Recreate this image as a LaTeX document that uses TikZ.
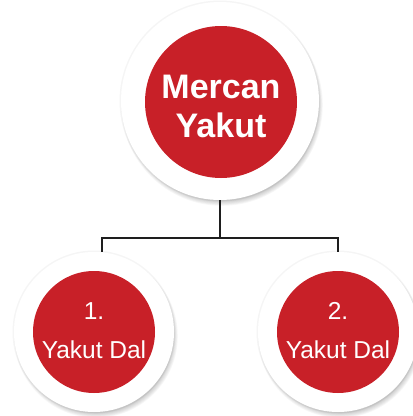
\documentclass[tikz,border=0pt]{standalone}
\usepackage{fontspec}
\setmainfont{Liberation Sans}
\usepackage{xcolor}
\definecolor{rubyred}{RGB}{200,32,40}
\definecolor{branchgray}{RGB}{30,30,30}

\tikzset{
  ring/.style={circle, fill=white, inner sep=0pt},
  bead/.style={circle, fill=rubyred, inner sep=0pt},
  beadtext/.style={text=white, align=center, inner sep=0pt},
  branch/.style={draw=branchgray, line width=2pt},
}

\begin{document}
\begin{tikzpicture}[x=1pt,y=-1pt]
\useasboundingbox (0,0) rectangle (413,416);
% soft shadows under the white rings
\foreach \x/\y/\r in {220/101/99, 94/332/80, 338/332/80}{
  \fill[black,opacity=0.04] (\x,\y) circle [radius={\r pt+1.5pt}];
  \foreach \s in {0,1,...,6}
    \fill[black,opacity=0.03] (\x+2,\y+4) circle [radius={\r pt-3pt+\s*0.8pt}];
}

% main circle
\node[ring, minimum size=198pt] (top) at (220,101) {};
\node[bead, minimum size=152pt] (mercan) at (221,102) {};
\node[beadtext, font=\bfseries\fontsize{34}{39}\selectfont] (mercanlabel) at (221,106.5) {Mercan\\Yakut};

% the two branches
\node[ring, minimum size=160pt] (left) at (94,332) {};
\node[bead, minimum size=122pt] (first) at (94,332) {};
\node[beadtext, font=\fontsize{24.5}{39}\selectfont] (firstlabel) at (94,331) {1.\\Yakut Dal};

\node[ring, minimum size=160pt] (right) at (338,332) {};
\node[bead, minimum size=122pt] (second) at (338,332) {};
\node[beadtext, font=\fontsize{24.5}{39}\selectfont] (secondlabel) at (338,331) {2.\\Yakut Dal};

% connectors
\coordinate (fork) at (220,238);
\draw[branch] (top) -- (fork);
\draw[branch] (fork) -| ([xshift=8pt]left.north);
\draw[branch] (fork) -| (right.north);
\end{tikzpicture}
\end{document}
